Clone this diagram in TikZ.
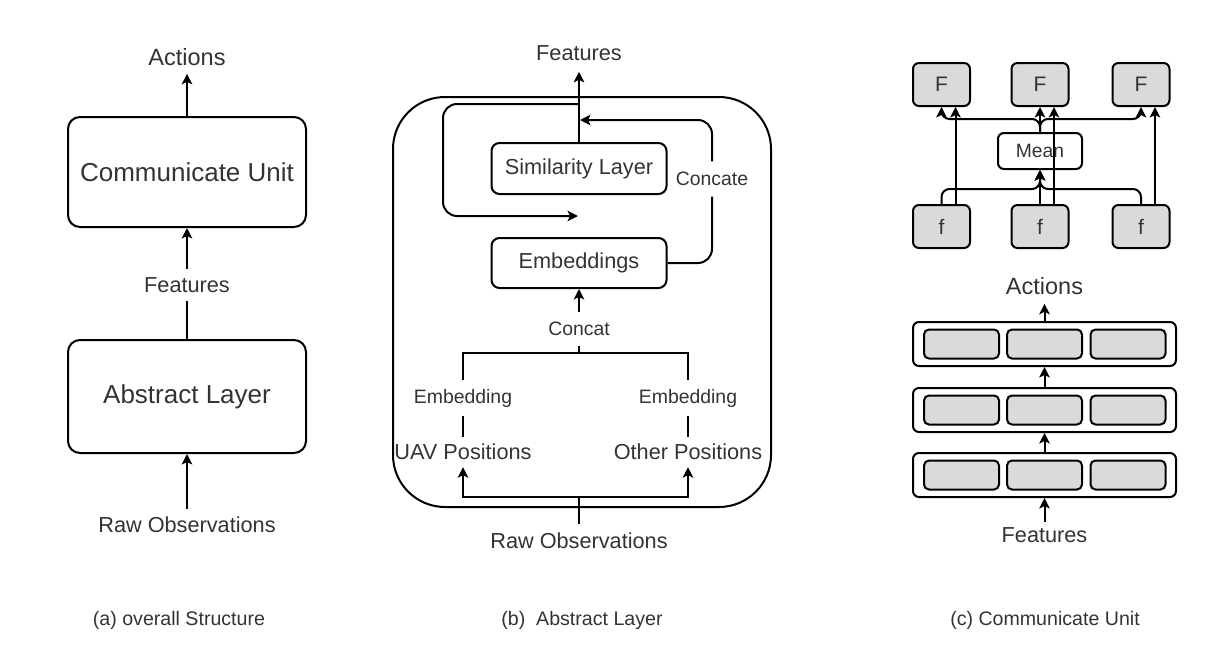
\documentclass[tikz,border=0pt]{standalone}
\usepackage{fontspec}
\setmainfont{Liberation Sans}
\usetikzlibrary{positioning, calc, arrows.meta}
\definecolor{Ink}{HTML}{333333}
\definecolor{Cell}{HTML}{DADADA}
\tikzset{
    bigbox/.style={rectangle, rounded corners=12pt, draw=black, line width=2pt, text=Ink, inner sep=0pt, font=\fontsize{26}{30}\selectfont},
    midbox/.style={rectangle, rounded corners=8pt, draw=black, line width=2pt, text=Ink, inner sep=0pt, font=\fontsize{21.7}{26}\selectfont},
    meanbox/.style={rectangle, rounded corners=6pt, draw=black, line width=2pt, text=Ink, inner sep=0pt, font=\fontsize{19.3}{23}\selectfont},
    greybox/.style={rectangle, rounded corners=6pt, draw=black, fill=Cell, line width=2pt, text=Ink, inner sep=0pt, font=\fontsize{21}{25}\selectfont},
    layerbox/.style={rectangle, rounded corners=6pt, draw=black, fill=white, line width=2pt, minimum width=263pt, minimum height=44pt},
    cellbox/.style={rectangle, rounded corners=5pt, draw=black, fill=Cell, line width=2pt, minimum width=75pt, minimum height=29pt},
    outerbox/.style={rectangle, rounded corners=52pt, draw=black, line width=2pt},
    txt/.style={text=Ink, inner xsep=2pt, font=\fontsize{21.7}{26}\selectfont},
    smalltxt/.style={text=Ink, inner xsep=2pt, font=\fontsize{19.4}{23}\selectfont},
    caption/.style={text=Ink, font=\fontsize{19.6}{23}\selectfont},
    link/.style={line width=2pt, color=black},
    arrow/.style={-{Stealth[length=10.5pt, width=10.5pt, inset=2.5pt]}, line width=2pt, color=black},
}
\begin{document}
\begin{tikzpicture}[x=1pt, y=-1pt]
    \useasboundingbox (0,0) rectangle (1211,653);

    % (a) struttura generale
    \node[bigbox, minimum width=238pt, minimum height=110pt] (cu) at (187,172) {Communicate Unit};
    \node[bigbox, minimum width=238pt, minimum height=113pt] (al) at (187,396.5) {Abstract Layer};
    \node[txt, inner ysep=8pt, font=\fontsize{23.5}{27}\selectfont] (acta) at (187,57) {Actions};
    \node[txt, inner ysep=8pt] (feata) at (187,285) {Features};
    \node[txt, inner ysep=8pt] (rawa) at (187,525) {Raw Observations};
    \draw[arrow] (rawa) -- (al);
    \draw[link] (al) -- (feata);
    \draw[arrow] (feata) -- (cu);
    \draw[arrow] (cu) -- (acta);
    \node[caption] (capa) at (179,620) {(a) overall Structure};

    % (b) abstract layer
    \node[outerbox, minimum width=378pt, minimum height=410pt] (abs) at (582,302) {};
    \node[midbox, minimum width=175pt, minimum height=51pt] (sim) at (579,168.5) {Similarity Layer};
    \node[midbox, minimum width=175pt, minimum height=50pt] (emb) at (579,263) {Embeddings};
    \node[txt, inner ysep=11pt] (featb) at (579,53) {Features};
    \draw[arrow] (sim) -- (featb);

    % anello e concatenazione
    \coordinate (tap) at (579,104);
    \coordinate (back) at (578,216);
    \draw[arrow, rounded corners=14pt] (tap) -- ++(-136,0) -- ++(0,112) -- (back);
    \node[smalltxt, inner ysep=10.5pt] (concate) at (712,179) {Concate};
    \coordinate (cin) at (580,120);
    \draw[link, rounded corners=14pt] (emb.east) -| (concate.south);
    \draw[arrow, rounded corners=14pt] (concate.north) |- (cin);

    % ingressi
    \node[smalltxt, inner ysep=10pt] (concat) at (579,329) {Concat};
    \draw[arrow] (concat) -- (emb);
    \coordinate (bar) at (579,353);
    \draw[link] (concat) -- (bar);
    \node[smalltxt, inner ysep=9pt] (embl) at (463,398) {Embedding};
    \node[smalltxt, inner ysep=9pt] (embr) at (688,398) {Embedding};
    \draw[link] (embl.north) |- (bar);
    \draw[link] (embr.north) |- (bar);
    \node[txt, inner ysep=7pt] (uav) at (463,452) {UAV Positions};
    \node[txt, inner ysep=7pt] (oth) at (688,452) {Other Positions};
    \draw[link] (uav) -- (embl);
    \draw[link] (oth) -- (embr);
    \node[txt, inner ysep=9pt] (rawb) at (579,541) {Raw Observations};
    \coordinate (split) at (579,497);
    \draw[link] (rawb) -- (split);
    \draw[arrow] (split) -| (uav);
    \draw[arrow] (split) -| (oth);
    \node[caption] (capb) at (582,620) {(b)\ \ Abstract Layer};

    % (c) communicate unit
    \node[greybox, minimum width=57pt, minimum height=43pt] (F1) at (941.5,84.5) {F};
    \node[greybox, minimum width=57pt, minimum height=43pt] (F2) at (1040,84.5) {F};
    \node[greybox, minimum width=57pt, minimum height=43pt] (F3) at (1141,84.5) {F};
    \node[greybox, minimum width=57pt, minimum height=43pt] (f1) at (941.5,226.5) {f};
    \node[greybox, minimum width=57pt, minimum height=43pt] (f2) at (1040,226.5) {f};
    \node[greybox, minimum width=57pt, minimum height=43pt] (f3) at (1141,226.5) {f};
    \node[meanbox, minimum width=84pt, minimum height=36pt] (mean) at (1040,151) {Mean};
    \draw[arrow, rounded corners=8pt] (f1) |- ([yshift=-19pt]mean.south) -- (mean);
    \draw[arrow, rounded corners=8pt] (f3) |- ([yshift=-19pt]mean.south) -- (mean);
    \draw[arrow] (f2) -- (mean);
    \draw[arrow, rounded corners=8pt] (mean) -- ([yshift=13pt]mean.north) -| (F1);
    \draw[arrow, rounded corners=8pt] (mean) -- ([yshift=13pt]mean.north) -| (F3);
    \draw[arrow] (mean) -- (F2);
    \draw[arrow] ([xshift=14pt]f1.north) -- ([xshift=14pt]F1.south);
    \draw[arrow] ([xshift=14pt]f2.north) -- ([xshift=14pt]F2.south);
    \draw[arrow] ([xshift=14pt]f3.north) -- ([xshift=14pt]F3.south);

    % strati
    \node[layerbox] (lay1) at (1044.5,475) {};
    \node[layerbox] (lay2) at (1044.5,410) {};
    \node[layerbox] (lay3) at (1044.5,344) {};
    \node[cellbox] (c11) at (961.5,475) {};
    \node[cellbox] (c12) at (1044.5,475) {};
    \node[cellbox] (c13) at (1128,475) {};
    \node[cellbox] (c21) at (961.5,410) {};
    \node[cellbox] (c22) at (1044.5,410) {};
    \node[cellbox] (c23) at (1128,410) {};
    \node[cellbox] (c31) at (961.5,344) {};
    \node[cellbox] (c32) at (1044.5,344) {};
    \node[cellbox] (c33) at (1128,344) {};
    \node[txt, inner ysep=9pt, font=\fontsize{23.5}{27}\selectfont] (actc) at (1044.5,286) {Actions};
    \node[txt, inner ysep=6pt] (featc) at (1044.5,535.5) {Features};
    \draw[arrow] (featc) -- (lay1);
    \draw[arrow] (lay1) -- (lay2);
    \draw[arrow] (lay2) -- (lay3);
    \draw[arrow] (lay3) -- (actc);
    \node[caption] (capc) at (1045,620) {(c) Communicate Unit};
\end{tikzpicture}
\end{document}
